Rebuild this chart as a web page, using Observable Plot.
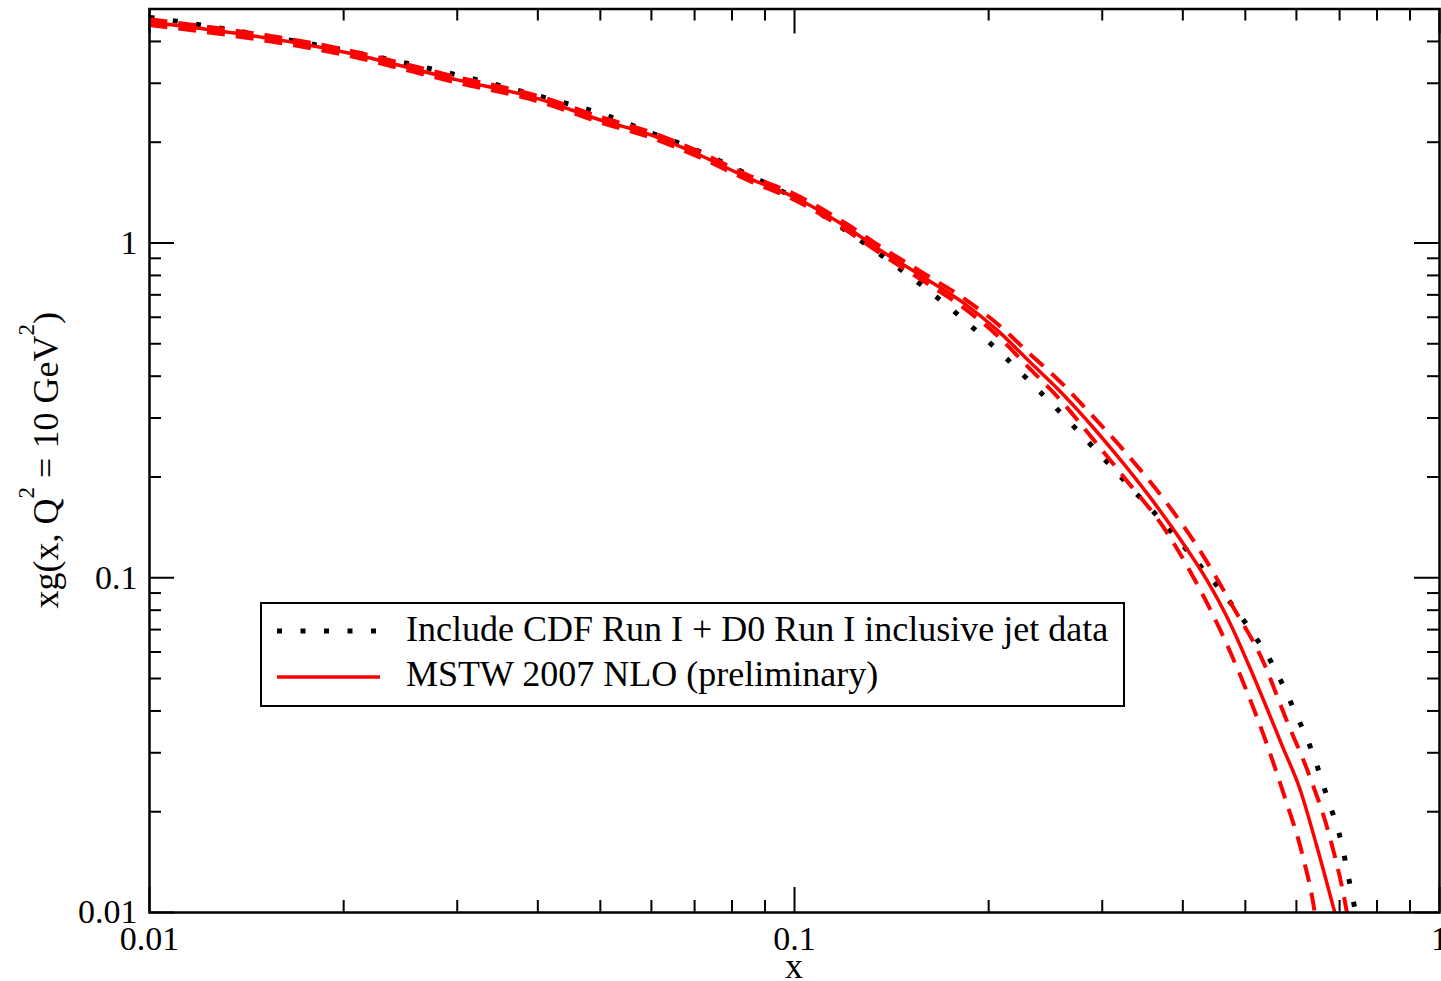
<!DOCTYPE html>
<html>
<head>
<meta charset="utf-8">
<script src="https://cdn.jsdelivr.net/npm/d3@7"></script>
<script src="https://cdn.jsdelivr.net/npm/@observablehq/plot@0.6"></script>
<style>
  html, body { margin: 0; padding: 0; background: white; overflow: hidden; }
  #chart svg { display: block; overflow: hidden; }
</style>
</head>
<body>
<div id="chart"></div>
<script>
// ---- data ----
const centralX = [0.01, 0.02, 0.03, 0.04, 0.05, 0.06, 0.07, 0.085, 0.1, 0.12, 0.136, 0.158, 0.183, 0.206, 0.232, 0.26, 0.29, 0.316, 0.355, 0.40, 0.435, 0.473, 0.51, 0.549, 0.571, 0.607, 0.644, 0.69];
const centralY = [4.57, 3.72, 3.07, 2.70, 2.33, 2.10, 1.86, 1.56, 1.37, 1.12, 0.95, 0.793, 0.661, 0.55, 0.44, 0.355, 0.282, 0.232, 0.175, 0.127, 0.099, 0.0734, 0.053, 0.0377, 0.0313, 0.0235, 0.016, 0.0098];

const upperX = [0.01, 0.02, 0.03, 0.04, 0.05, 0.06, 0.07, 0.085, 0.1, 0.12, 0.136, 0.158, 0.183, 0.206, 0.232, 0.26, 0.2818, 0.3274, 0.3761, 0.4276, 0.4773, 0.5313, 0.5787, 0.6292, 0.6754, 0.718, 0.722];
const upperY = [4.66, 3.79, 3.13, 2.75, 2.38, 2.14, 1.90, 1.59, 1.40, 1.145, 0.975, 0.815, 0.683, 0.575, 0.465, 0.38, 0.3224, 0.2345, 0.169, 0.1185, 0.0825, 0.0569, 0.0377, 0.0255, 0.0169, 0.0101, 0.0095];

const lowerX = [0.01, 0.02, 0.03, 0.04, 0.05, 0.06, 0.07, 0.085, 0.1, 0.12, 0.136, 0.158, 0.183, 0.206, 0.232, 0.26, 0.29, 0.331, 0.37, 0.41, 0.4758, 0.5357, 0.5755, 0.6128, 0.640, 0.643];
const lowerY = [4.48, 3.65, 3.01, 2.65, 2.29, 2.06, 1.83, 1.535, 1.345, 1.095, 0.93, 0.772, 0.64, 0.53, 0.42, 0.335, 0.26, 0.19, 0.145, 0.105, 0.0589, 0.0332, 0.0221, 0.0149, 0.0101, 0.0095];

const jetsX = [0.01, 0.011, 0.0152, 0.021, 0.0291, 0.0401, 0.0509, 0.0597, 0.0697, 0.0809, 0.1008, 0.1241, 0.1423, 0.1622, 0.1849, 0.2089, 0.235, 0.2641, 0.2956, 0.3309, 0.3708, 0.4128, 0.4595, 0.5066, 0.5538, 0.5947, 0.6351, 0.6691, 0.7033, 0.7273, 0.7393, 0.745];
const jetsY = [4.72, 4.60, 4.15, 3.70, 3.22, 2.75, 2.41, 2.14, 1.91, 1.671, 1.35, 1.044, 0.865, 0.715, 0.58, 0.4686, 0.375, 0.2983, 0.2366, 0.1873, 0.148, 0.1163, 0.091, 0.0708, 0.0541, 0.0404, 0.0301, 0.0222, 0.0164, 0.01198, 0.01026, 0.0095];

const xTickLabels = [0.01, 0.1, 1];
const yTickLabels = [0.01, 0.1, 1];
const xMinorTicks = [0.02, 0.03, 0.04, 0.05, 0.06, 0.07, 0.08, 0.09, 0.2, 0.3, 0.4, 0.5, 0.6, 0.7, 0.8, 0.9];
const yMinorTicks = [0.02, 0.03, 0.04, 0.05, 0.06, 0.07, 0.08, 0.09, 0.2, 0.3, 0.4, 0.5, 0.6, 0.7, 0.8, 0.9, 2, 3, 4];

const legendLabels = ["Include CDF Run I + D0 Run I inclusive jet data", "MSTW 2007 NLO (preliminary)"];
const xLabel = "x";

// ---- layout ----
const W = 1441, H = 981;
const mT = 8.5, mB = 69, mL = 149, mR = 2;
const innerH = H - mT - mB, innerW = W - mL - mR;
const FONT = "'Liberation Serif', 'Times New Roman', serif";

const toRows = (xs, ys) => xs.map((x, i) => ({x, y: ys[i]}));
const central = toRows(centralX, centralY);
const upper = toRows(upperX, upperY);
const lower = toRows(lowerX, lowerY);
const jets = toRows(jetsX, jetsY);

const MAJ = 25, MIN = 12;

const chart = Plot.plot({
  width: W, height: H,
  marginTop: mT, marginBottom: mB, marginLeft: mL, marginRight: mR,
  x: {type: "log", domain: [0.01, 1]},
  y: {type: "log", domain: [0.01, 5]},
  style: {fontFamily: FONT, background: "white", overflow: "hidden"},
  marks: [
    // inward ticks on all four sides
    Plot.ruleX(xMinorTicks, {x: d => d, insetTop: innerH - MIN, stroke: "black", strokeWidth: 2}),
    Plot.ruleX(xMinorTicks, {x: d => d, insetBottom: innerH - MIN, stroke: "black", strokeWidth: 2}),
    Plot.ruleX(xTickLabels, {x: d => d, insetTop: innerH - MAJ, stroke: "black", strokeWidth: 2}),
    Plot.ruleX(xTickLabels, {x: d => d, insetBottom: innerH - MAJ, stroke: "black", strokeWidth: 2}),
    Plot.ruleY(yMinorTicks, {y: d => d, insetRight: innerW - MIN, stroke: "black", strokeWidth: 2}),
    Plot.ruleY(yMinorTicks, {y: d => d, insetLeft: innerW - MIN, stroke: "black", strokeWidth: 2}),
    Plot.ruleY(yTickLabels, {y: d => d, insetRight: innerW - MAJ, stroke: "black", strokeWidth: 2}),
    Plot.ruleY(yTickLabels, {y: d => d, insetLeft: innerW - MAJ, stroke: "black", strokeWidth: 2}),
    Plot.axisX(xTickLabels, {tickSize: 0, tickPadding: 13, tickFormat: d => String(d), fontSize: 34, label: null}),
    Plot.axisY(yTickLabels, {tickSize: 0, tickPadding: 12, tickFormat: d => String(d), fontSize: 34, label: null}),
    // curves
    Plot.line(jets, {x: "x", y: "y", stroke: "black", strokeWidth: 5, strokeDasharray: "5,18.5", strokeLinecap: "butt", strokeLinejoin: "miter", curve: "monotone-x", clip: true}),
    Plot.line(upper, {x: "x", y: "y", stroke: "#ff0000", strokeWidth: 4, strokeDasharray: "18,11", strokeLinecap: "butt", curve: "monotone-x", clip: true}),
    Plot.line(lower, {x: "x", y: "y", stroke: "#ff0000", strokeWidth: 4, strokeDasharray: "18,11", strokeLinecap: "butt", curve: "monotone-x", clip: true}),
    Plot.line(central, {x: "x", y: "y", stroke: "#ff0000", strokeWidth: 3.5, strokeLinecap: "butt", curve: "monotone-x", clip: true}),
    Plot.frame({stroke: "black", strokeWidth: 2.5})
  ]
});

document.getElementById("chart").appendChild(chart);

const svg = d3.select(chart);

// x axis title
svg.append("text")
  .attr("x", mL + innerW * 0.5).attr("y", 978)
  .attr("text-anchor", "middle")
  .attr("font-family", FONT).attr("font-size", 36).attr("fill", "black")
  .text(xLabel);

// y axis title with superscripts
const yt = svg.append("text")
  .attr("transform", `translate(58,${mT + innerH * 0.5}) rotate(-90)`)
  .attr("text-anchor", "middle")
  .attr("font-family", FONT).attr("font-size", 36).attr("fill", "black");
yt.append("tspan").text("xg(x, Q");
yt.append("tspan").attr("font-size", 23).attr("dy", -24).text("2");
yt.append("tspan").attr("dy", 24).text(" = 10 GeV");
yt.append("tspan").attr("font-size", 23).attr("dy", -24).text("2");
yt.append("tspan").attr("dy", 24).text(")");

// legend box
const lg = svg.append("g");
lg.append("rect")
  .attr("x", 261).attr("y", 603).attr("width", 863).attr("height", 103)
  .attr("fill", "white").attr("stroke", "black").attr("stroke-width", 2);
lg.append("line")
  .attr("x1", 277).attr("x2", 380).attr("y1", 631).attr("y2", 631)
  .attr("stroke", "black").attr("stroke-width", 5).attr("stroke-dasharray", "5,18.5");
lg.append("line")
  .attr("x1", 277).attr("x2", 380).attr("y1", 677).attr("y2", 677)
  .attr("stroke", "#ff0000").attr("stroke-width", 3.5);
lg.append("text").attr("x", 406).attr("y", 641)
  .attr("font-family", FONT).attr("font-size", 36).attr("fill", "black")
  .attr("text-anchor", "start").text(legendLabels[0]);
lg.append("text").attr("x", 406).attr("y", 686)
  .attr("font-family", FONT).attr("font-size", 36).attr("fill", "black")
  .attr("text-anchor", "start").text(legendLabels[1]);
</script>
</body>
</html>
